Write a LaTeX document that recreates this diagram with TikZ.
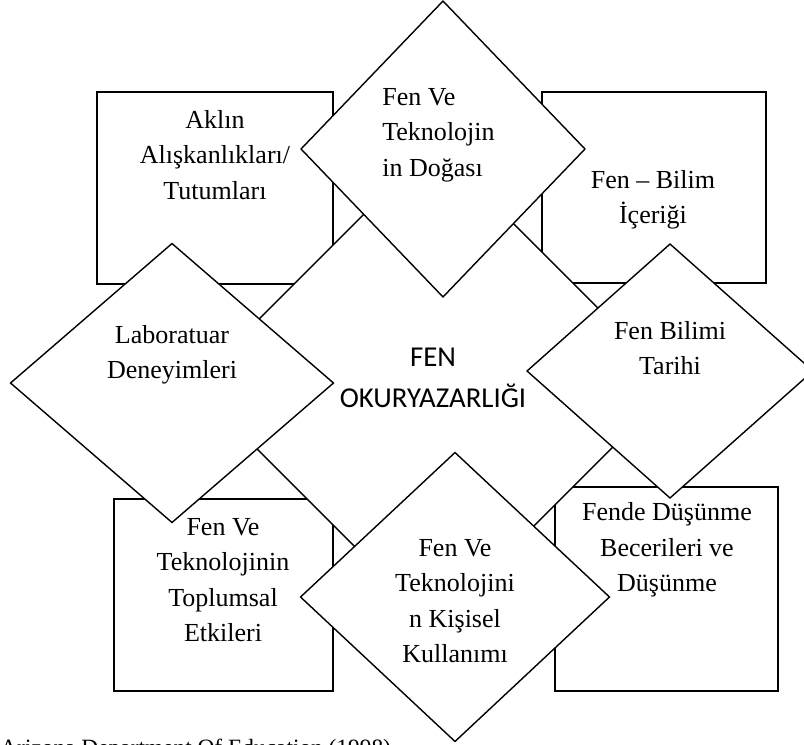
\documentclass[tikz,border=0pt]{standalone}
\usepackage{fontspec}
\setmainfont{Liberation Serif}
\newfontfamily\calibriFont{Carlito}
\usetikzlibrary{shapes.geometric}

\begin{document}
\begin{tikzpicture}[x=0.02cm, y=-0.02cm,
        boxShape/.style = { shape=rectangle, draw=black, fill=white, line width=0.8pt, inner sep=0pt, outer sep=0pt },
        diamondShape/.style = { shape=diamond, draw=black, fill=white, line width=0.8pt, inner sep=0pt, outer sep=0pt },
        textLines/.style = { align=center, inner sep=0pt, font=\fontsize{14.8}{20.2}\selectfont } ]
    \clip (0,0) rectangle (804,744);
    \useasboundingbox (0,0) rectangle (804,744);
    % boxes behind
    \node (nAkil) [ boxShape, minimum width=4.72cm, minimum height=3.84cm ] at (215,188) {};
    \node (nBilim) [ boxShape, minimum width=4.48cm, minimum height=3.82cm ] at (654,187.5) {};
    \node (nToplum) [ boxShape, minimum width=4.38cm, minimum height=3.84cm ] at (223.5,595) {};
    \node (nDusunme) [ boxShape, minimum width=4.46cm, minimum height=4.08cm ] at (666.5,589) {};
    % big diamond in the middle
    \node (nFen) [ diamondShape, minimum width=9.64cm, minimum height=9.64cm ] at (434,385) {};
    % small diamonds on top
    \node (nDoga) [ diamondShape, minimum width=5.68cm, minimum height=5.92cm ] at (443,149) {};
    \node (nLab) [ diamondShape, minimum width=6.46cm, minimum height=5.58cm ] at (172,383) {};
    \node (nTarih) [ diamondShape, minimum width=5.72cm, minimum height=5.08cm ] at (670,371) {};
    \node (nKisisel) [ diamondShape, minimum width=6.18cm, minimum height=5.78cm ] at (455,597) {};
    % texts
    \node (tAkil) [ textLines ] at (215,155) {Aklın\\Alışkanlıkları/\\Tutumları};
    \node (tDoga) [ textLines, align=left, anchor=west ] at (382,135) {Fen Ve\\Teknolojin\\in Doğası};
    \node (tBilim) [ textLines ] at (653,200) {Fen – Bilim\\İçeriği};
    \node (tLab) [ textLines ] at (172,355) {Laboratuar\\Deneyimleri};
    \node (tFen) [ textLines, font=\calibriFont\fontsize{16.4}{23.3}\selectfont ] at (433,378) {FEN\\OKURYAZARLIĞI};
    \node (tTarih) [ textLines ] at (670,348) {Fen Bilimi\\Tarihi};
    \node (tToplum) [ textLines ] at (223,580) {Fen Ve\\Teknolojinin\\Toplumsal\\Etkileri};
    \node (tKisisel) [ textLines ] at (455,601) {Fen Ve\\Teknolojini\\n Kişisel\\Kullanımı};
    \node (tDusunme) [ textLines ] at (667,550) {Fende Düşünme\\Becerileri ve\\Düşünme};
    \node (tKaynak) [ textLines, font=\fontsize{13.3}{16}\selectfont, anchor=base west ] at (0,755) {Arizona Department Of Education (1998)};
\end{tikzpicture}
\end{document}
